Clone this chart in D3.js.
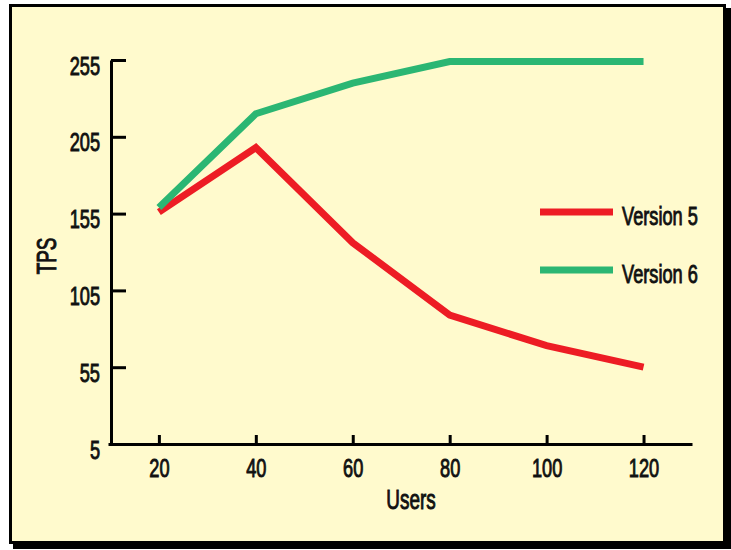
<!DOCTYPE html>
<html>
<head>
<meta charset="utf-8">
<script src="https://cdn.jsdelivr.net/npm/d3@7"></script>
<style>
  html, body { margin: 0; padding: 0; background: #ffffff; }
  svg { display: block; }
  text { font-family: "Liberation Sans", Arial, sans-serif; fill: #111; }
</style>
</head>
<body>
<svg id="chart" width="731" height="550"></svg>
<script>
// ---- data ----
const users = [20, 40, 60, 80, 100, 120];
const version5 = [156, 198, 136, 89, 69, 55];
const version6 = [159, 220, 240, 254, 254, 254];
const seriesNames = ["Version 5", "Version 6"];
const seriesColors = ["#ED1C24", "#2BB673"];
const yTicks = [5, 55, 105, 155, 205, 255];
const xTicks = [20, 40, 60, 80, 100, 120];
const xTitle = "Users";
const yTitle = "TPS";

const svg = d3.select("#chart");
const FS = 26, SX = 0.7, SW = 0.95;

// frame with shadow
svg.append("rect").attr("x", 13).attr("y", 8).attr("width", 718).attr("height", 541).attr("fill", "#000");
svg.append("rect").attr("x", 10.5).attr("y", 5.5).attr("width", 714).attr("height", 537)
  .attr("fill", "#FFFACD").attr("stroke", "#000").attr("stroke-width", 3);

const x = d3.scaleLinear().domain([9.5, 130]).range([108, 692]);
const y = d3.scaleLinear().domain([5, 255]).range([444, 60]);

// y axis
const ya = svg.append("g").attr("transform", "translate(111,0)")
  .call(d3.axisLeft(y).tickValues(yTicks).tickSizeInner(-15).tickSizeOuter(0).tickPadding(11));
ya.select(".domain").attr("stroke", "#000").attr("stroke-width", 3);
ya.selectAll(".tick line").attr("stroke", "#000").attr("stroke-width", 3);
ya.selectAll(".tick text")
  .attr("font-size", FS).attr("font-family", null)
  .attr("x", -11 / SX).attr("dy", 14)
  .attr("transform", `scale(${SX},1)`)
  .attr("stroke", "#111").attr("stroke-width", SW);

// x axis
const xa = svg.append("g").attr("transform", "translate(0,444)")
  .call(d3.axisBottom(x).tickValues(xTicks).tickSizeInner(-9).tickSizeOuter(0).tickPadding(14));
xa.select(".domain").attr("stroke", "#000").attr("stroke-width", 3);
xa.selectAll(".tick line").attr("stroke", "#000").attr("stroke-width", 3);
xa.selectAll(".tick text")
  .attr("font-size", FS).attr("font-family", null)
  .attr("dy", 19).attr("y", 14)
  .attr("transform", `scale(${SX},1)`)
  .attr("stroke", "#111").attr("stroke-width", SW);

// axis titles
svg.append("text").attr("transform", `translate(411,509) scale(${SX},1)`)
  .attr("text-anchor", "middle").attr("font-size", FS + 1)
  .attr("stroke", "#111").attr("stroke-width", SW).text(xTitle);
svg.append("text").attr("transform", `translate(56,256) rotate(-90) scale(${SX},1)`)
  .attr("text-anchor", "middle").attr("font-size", FS + 1)
  .attr("stroke", "#111").attr("stroke-width", SW).text(yTitle);

// lines
const line = d3.line().x((d, i) => x(users[i])).y(d => y(d)).curve(d3.curveLinear);
[version5, version6].forEach((vals, k) => {
  svg.append("path").datum(vals).attr("d", line)
    .attr("fill", "none").attr("stroke", seriesColors[k])
    .attr("stroke-width", 7).attr("stroke-linejoin", "miter").attr("stroke-linecap", "butt");
});

// legend
const legY = [212, 270];
seriesNames.forEach((name, k) => {
  svg.append("line").attr("x1", 540).attr("x2", 613).attr("y1", legY[k]).attr("y2", legY[k])
    .attr("stroke", seriesColors[k]).attr("stroke-width", 7);
  svg.append("text").attr("transform", `translate(622,${legY[k] + 13}) scale(${SX},1)`)
    .attr("font-size", FS).attr("stroke", "#111").attr("stroke-width", SW).text(name);
});
</script>
</body>
</html>
